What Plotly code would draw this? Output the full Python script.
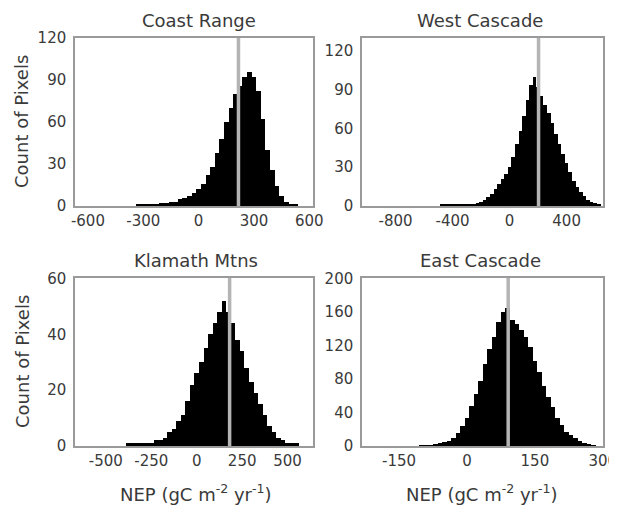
import plotly.graph_objects as go

# --- data (bin centres / counts) ---
coast_x = list(range(-650, 601, 25))
coast_y = [0, 0, 0, 0, 0, 0, 0, 0, 0, 0, 0, 0, 0, 1, 1, 1, 1, 1, 2, 2,
           3, 3, 5, 6, 7, 9, 12, 16, 22, 28, 38, 48, 60, 70, 80, 86, 92, 96, 92, 82,
           62, 40, 26, 14, 7, 3, 1, 1, 0, 0, 0]
coast_mark = 216
coast_ticks = [-600, -300, 0, 300, 600]

west_x = list(range(-1025, 651, 25))
west_y = [0] * 22 + [1, 1, 1, 1, 1, 1, 1, 1,
                     1, 1, 2, 3, 5, 7, 9, 13, 17, 21, 25, 30, 38, 48, 58, 70, 82, 94, 100, 92,
                     85, 78, 72, 64, 56, 48, 40, 33, 26, 19, 15, 11, 8, 5, 3, 2, 1, 0]
west_mark = 203
west_ticks = [-800, -400, 0, 400]

klam_x = list(range(-650, 626, 25))
klam_y = [0, 0, 0, 0, 0, 0, 0, 0, 0, 0, 0, 1, 1, 1, 1, 1, 1, 2, 2, 3,
          5, 6, 9, 11, 16, 22, 26, 30, 35, 40, 44, 48, 52, 48, 44, 38, 34, 28, 23, 19,
          15, 11, 7, 5, 3, 2, 1, 1, 1, 0, 0, 0]
klam_mark = 181
klam_ticks = [-500, -250, 0, 250, 500]

east_x = list(range(-230, 291, 10))
east_y = [0, 0, 0, 0, 0, 0, 0, 0, 0, 0, 0, 0, 0, 1, 1, 1, 2, 3, 5, 6,
          10, 15, 24, 34, 48, 62, 78, 98, 116, 130, 148, 160, 165, 150, 146, 138, 130, 118, 102, 88,
          72, 58, 46, 34, 25, 17, 13, 9, 6, 3, 2, 1, 0]
east_mark = 91
east_ticks = [-150, 0, 150, 300]

# the page body adds an 8px offset, so the figure is 8px smaller
W, H, OFF = 609, 505, 8


def px_x(px):
    return (px - OFF) / W


def px_y(py):
    return 1 - (py - OFF) / H


left_col = [px_x(75), px_x(313)]
right_col = [px_x(362), px_x(603)]
top_row = [px_y(206), px_y(38)]
bot_row = [px_y(446), px_y(278)]

panels = [
    # name, x, y, width, mark, xrange, yrange, xticks, yticks, xdom, ydom, title pos
    ("Coast Range", coast_x, coast_y, 25, coast_mark, [-670, 620], [0, 120],
     coast_ticks, [0, 30, 60, 90, 120], left_col, top_row, (199, 20)),
    ("West Cascade", west_x, west_y, 25, west_mark, [-1035, 655], [0, 130],
     west_ticks, [0, 30, 60, 90, 120], right_col, top_row, (480, 20)),
    ("Klamath Mtns", klam_x, klam_y, 25, klam_mark, [-670, 640], [0, 60.2],
     klam_ticks, [0, 20, 40, 60], left_col, bot_row, (196, 260)),
    ("East Cascade", east_x, east_y, 10, east_mark, [-232, 300.5], [0, 200.5],
     east_ticks, [0, 40, 80, 120, 160, 200], right_col, bot_row, (480, 260)),
]

FONT = "DejaVu Sans"
TXT = "#3a3a3a"
fig = go.Figure()
shapes = []
annots = []

for i, (name, xs, ys, w, mark, xr, yr, xt, yt, xd, yd, tp) in enumerate(panels):
    n = "" if i == 0 else str(i + 1)
    fig.add_trace(go.Bar(x=xs, y=ys, width=w, marker_color="black",
                         marker_line_width=0, xaxis="x" + n, yaxis="y" + n,
                         showlegend=False))
    ax = dict(domain=xd, range=xr, tickvals=xt, ticktext=[str(v) for v in xt],
              showgrid=False, zeroline=False, automargin=False,
              showline=True, mirror=True, linecolor="#9a9a9a", linewidth=1.5,
              ticks="", ticklabelstandoff=0, ticklabeloverflow="allow",
              tickfont=dict(family=FONT, size=15, color=TXT),
              anchor="y" + n)
    ay = dict(domain=yd, range=yr, tickvals=yt, showgrid=False, zeroline=False,
              automargin=False, ticklabeloverflow="allow",
              showline=True, mirror=True, linecolor="#9a9a9a", linewidth=1.5,
              ticks="", ticklabelstandoff=4,
              tickfont=dict(family=FONT, size=15, color=TXT),
              anchor="x" + n)
    fig.update_layout(**{"xaxis" + n: ax, "yaxis" + n: ay})
    shapes.append(dict(type="line", xref="x" + n, yref="y" + n + " domain",
                       x0=mark, x1=mark, y0=0, y1=1,
                       line=dict(color="#b4b4b4", width=3.5)))
    annots.append(dict(text=name, xref="paper", yref="paper",
                       x=px_x(tp[0]), y=px_y(tp[1]),
                       xanchor="center", yanchor="middle", showarrow=False,
                       font=dict(family=FONT, size=18, color=TXT)))

for yc in [122, 362]:
    annots.append(dict(text="Count of Pixels", xref="paper", yref="paper",
                       x=px_x(22), y=px_y(yc), textangle=-90, showarrow=False,
                       xanchor="center", yanchor="middle",
                       font=dict(family=FONT, size=18, color=TXT)))
for xc in [196, 482]:
    annots.append(dict(text="NEP (gC m<sup>-2</sup> yr<sup>-1</sup>)",
                       xref="paper", yref="paper", x=px_x(xc), y=px_y(493),
                       showarrow=False, xanchor="center", yanchor="middle",
                       font=dict(family=FONT, size=18, color=TXT)))

fig.update_layout(width=W, height=H, margin=dict(l=0, r=0, t=0, b=0),
                  plot_bgcolor="white", paper_bgcolor="white", bargap=0,
                  shapes=shapes, annotations=annots)

fig.write_html("out.html")
